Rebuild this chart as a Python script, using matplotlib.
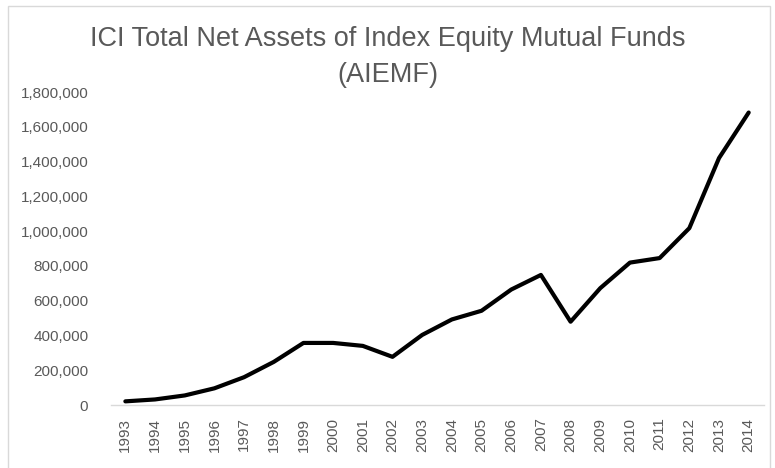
"""
ICI Total Net Assets of Index Equity Mutual Funds (AIEMF), 1993-2014
"""

import matplotlib.pyplot as plt
from matplotlib.patches import Rectangle
from matplotlib.ticker import FuncFormatter

COLORS = {
    'line': '#000000',
    'text': '#595959',
    'axis': '#D9D9D9',
    'border': '#D9D9D9',
}

plt.rcParams['font.family'] = 'Liberation Sans'

years = [str(y) for y in range(1993, 2015)]
assets = [21000, 32000, 55000, 96000, 160000, 248000, 357000, 357000,
          340000, 277000, 403000, 492000, 542000, 664000, 748000, 479000,
          672000, 819000, 845000, 1017000, 1420000, 1682000]
y_ticks = list(range(0, 1800001, 200000))


def main():
    fig = plt.figure(figsize=(7.75, 4.68), dpi=100)
    ax = fig.add_axes([0.1426, 0.1346, 0.8426, 0.6688])

    x = list(range(len(years)))
    ax.plot(x, assets, color=COLORS['line'], lw=3,
            solid_joinstyle='round', solid_capstyle='round')

    ax.set_xlim(-0.5, len(years) - 0.5)
    ax.set_ylim(0, 1800000)
    ax.set_xticks(x)
    ax.set_xticklabels(years, rotation=90, fontsize=11, color=COLORS['text'])
    ax.set_yticks(y_ticks)
    ax.yaxis.set_major_formatter(FuncFormatter(lambda v, p: f'{int(v):,}'))
    ax.tick_params(axis='y', length=0, labelsize=11, labelcolor=COLORS['text'], pad=16)
    ax.tick_params(axis='x', length=0, pad=9)

    for side in ['top', 'right', 'left']:
        ax.spines[side].set_visible(False)
    ax.spines['bottom'].set_color(COLORS['axis'])
    ax.spines['bottom'].set_linewidth(1.0)

    fig.text(0.5, 0.878, 'ICI Total Net Assets of Index Equity Mutual Funds\n(AIEMF)',
             ha='center', va='center', fontsize=19.5, color=COLORS['text'],
             linespacing=1.52)

    # chart area border
    fig.patches.append(Rectangle((8 / 775, -0.01), 762 / 775, 1 - 6 / 468 + 0.01,
                                 transform=fig.transFigure, fill=False,
                                 edgecolor=COLORS['border'], lw=1))

    fig.savefig('out.png', dpi=100, facecolor='white')
    plt.close(fig)


if __name__ == '__main__':
    main()
